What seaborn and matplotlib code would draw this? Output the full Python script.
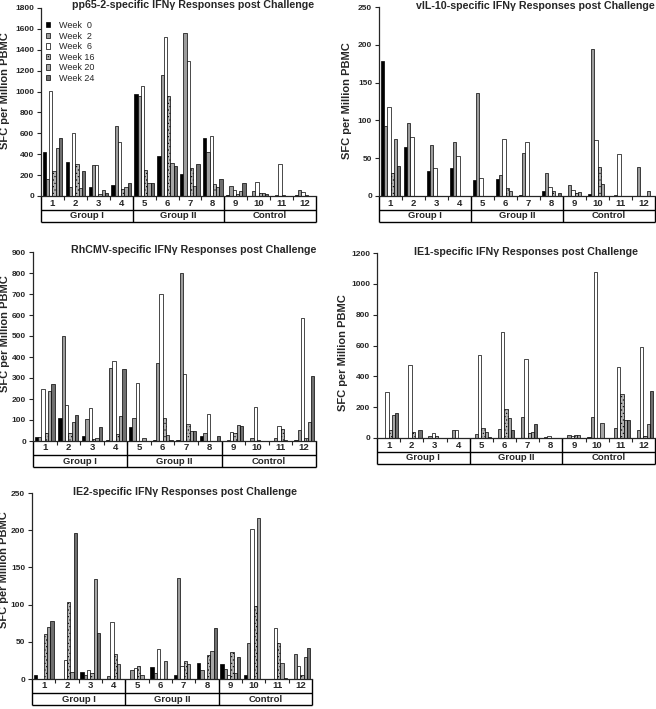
import numpy as np
import pandas as pd
import seaborn as sns
import matplotlib.pyplot as plt
import matplotlib.patches as mpatches

# figure size in pixels
W, H = 656, 709

animals = [str(i) for i in range(1, 13)]
weeks = ['Week  0', 'Week  2', 'Week  6', 'Week 16', 'Week 20', 'Week 24']
groups = ['Group I', 'Group II', 'Control']
week_colors = ['#000000', '#9c9c9c', '#ffffff', '#b4b4b4', '#a6a6a6', '#6f6f6f']

# rows = weeks (0, 2, 6, 16, 20, 24), columns = animals 1..12
pp65_vals = [
    [418, 326, 89, 102, 975, 383, 214, 559, 10, 0, 0, 8],
    [163, 83, 297, 670, 955, 1155, 1561, 421, 96, 48, 10, 54],
    [1010, 603, 297, 517, 1050, 1525, 1296, 575, 54, 134, 306, 35],
    [240, 306, 19, 67, 249, 955, 271, 112, 16, 26, 10, 5],
    [456, 73, 57, 86, 121, 313, 93, 89, 48, 32, 3, 3],
    [555, 240, 26, 128, 121, 290, 310, 163, 124, 19, 3, 3],
]
vil10_vals = [
    [178, 65, 33, 37, 21, 23, 1, 7, 0, 3, 0, 0],
    [92, 97, 67, 71, 136, 28, 57, 30, 14, 194, 1, 38],
    [118, 78, 37, 53, 24, 75, 71, 12, 8, 74, 56, 0],
    [30, 0, 0, 0, 0, 11, 0, 6, 4, 38, 0, 0],
    [75, 0, 0, 0, 0, 7, 0, 0, 5, 16, 0, 6],
    [40, 0, 0, 0, 0, 0, 0, 4, 0, 0, 0, 0],
]
rhcmv_vals = [
    [20, 110, 25, 5, 65, 5, 5, 25, 0, 0, 0, 3],
    [20, 498, 103, 350, 110, 370, 800, 38, 5, 15, 15, 52],
    [250, 170, 155, 383, 275, 700, 318, 128, 45, 162, 72, 588],
    [40, 40, 10, 35, 0, 110, 80, 0, 40, 3, 55, 15],
    [240, 90, 12, 118, 15, 30, 50, 0, 75, 0, 5, 90],
    [272, 125, 65, 345, 0, 5, 48, 25, 72, 0, 0, 308],
]
ie1_vals = [
    [3, 0, 0, 0, 0, 0, 0, 0, 0, 5, 0, 0],
    [0, 0, 12, 50, 25, 60, 138, 5, 18, 135, 68, 52],
    [300, 475, 30, 50, 538, 690, 515, 10, 10, 1080, 460, 590],
    [50, 38, 15, 0, 62, 185, 30, 0, 22, 0, 283, 15],
    [148, 0, 0, 0, 42, 128, 38, 0, 20, 100, 115, 88],
    [160, 50, 0, 0, 5, 52, 90, 0, 0, 0, 115, 308],
]
ie2_vals = [
    [5, 0, 9, 0, 0, 16, 5, 22, 20, 6, 0, 0],
    [0, 0, 6, 4, 12, 8, 136, 12, 14, 48, 0, 34],
    [0, 26, 12, 76, 15, 40, 18, 0, 6, 202, 68, 18],
    [60, 104, 8, 34, 18, 0, 24, 32, 36, 98, 48, 6],
    [70, 10, 134, 20, 6, 24, 20, 38, 8, 216, 22, 30],
    [78, 196, 62, 0, 0, 0, 0, 68, 30, 0, 2, 42],
]

titles = [
    'pp65-2-specific IFNγ Responses post Challenge',
    'vIL-10-specific IFNγ Responses post Challenge',
    'RhCMV-specific IFNγ Responses post Challenge',
    'IE1-specific IFNγ Responses post Challenge',
    'IE2-specific IFNγ Responses post Challenge',
]

sns.set_style('ticks')
plt.rcParams['font.family'] = ['Liberation Sans', 'DejaVu Sans']
plt.rcParams['font.weight'] = 'bold'
plt.rcParams['hatch.linewidth'] = 0.4

fig = plt.figure(figsize=(W / 100, H / 100), dpi=100)

# (values, ymax, ystep, axes box px: left, right, top, bottom,
#  title right/y px, ylabel right edge px / centre y px, legend)
panels = [
    (pp65_vals, 1800, 200, (41, 316, 8, 196), (314, 5), (10, 91), True),
    (vil10_vals, 250, 50, (379, 655, 7, 196), (655, 6), (352, 101), False),
    (rhcmv_vals, 900, 100, (33, 316, 252, 441), (316, 250), (10, 334), False),
    (ie1_vals, 1200, 200, (377, 655, 253, 438), (638, 252), (348, 353), False),
    (ie2_vals, 250, 50, (32, 312, 493, 679), (297, 492), (9, 570), False),
]


def draw_box(ax, h_px):
    # two-row box under the x axis: animal numbers, then group names
    r1 = -14 / h_px
    r2 = -26 / h_px
    tr = ax.get_xaxis_transform()
    x0, x1 = ax.get_xlim()
    kw = dict(color='black', lw=1.0, transform=tr, clip_on=False, solid_capstyle='butt')
    ax.plot([x0, x1], [r1, r1], **kw)
    ax.plot([x0, x1], [r2, r2], **kw)
    for xb in [x0, 3.5, 7.5, x1]:
        ax.plot([xb, xb], [0, r2], **kw)
    for gi, g in enumerate(groups):
        ax.text(gi * 4 + 1.5, (r1 + r2) / 2, g, transform=tr, ha='center', va='center',
                fontsize=6.8, fontweight='bold')


for title, (vals, ymax, ystep, box, tpos, lab, show_leg) in zip(titles, panels):
    l, r, t, b = box
    ax = fig.add_axes([l / W, 1 - b / H, (r - l) / W, (b - t) / H])
    df = pd.DataFrame({
        'animal': np.tile(animals, len(weeks)),
        'week': np.repeat(weeks, len(animals)),
        'value': np.concatenate(vals),
    })
    sns.barplot(data=df, x='animal', y='value', hue='week', order=animals, hue_order=weeks,
                palette=week_colors, saturation=1, edgecolor='black', linewidth=0.5,
                width=0.85, gap=0, errorbar=None, legend=False, ax=ax)
    for p in ax.containers[3]:
        p.set_hatch('.....')

    ax.set_xlim(-0.5, 11.5)
    ax.set_ylim(0, ymax)
    ax.set_yticks(np.arange(0, ymax + 1, ystep))
    ax.set_xlabel('')
    ax.set_ylabel('SFC per Million PBMC', fontsize=8, fontweight='bold')
    ax.yaxis.set_label_coords((lab[0] - l) / (r - l), (b - lab[1]) / (b - t))
    sns.despine(ax=ax)
    ax.spines['left'].set_linewidth(0.9)
    ax.spines['bottom'].set_linewidth(0.9)
    ax.tick_params(axis='y', length=3, width=0.8, labelsize=6, pad=2)
    ax.tick_params(axis='x', which='major', length=0, labelsize=6.8, pad=1.8)
    ax.set_xticks(np.arange(0.5, 11, 1), minor=True)
    ax.tick_params(axis='x', which='minor', length=3, width=0.8)
    draw_box(ax, b - t)

    fig.text(tpos[0] / W, 1 - tpos[1] / H, title, ha='right', va='center',
             fontsize=7.7, fontweight='bold')

    if show_leg:
        handles = [mpatches.Patch(facecolor=c, edgecolor='black', linewidth=0.5,
                                  hatch='.....' if i == 3 else None)
                   for i, c in enumerate(week_colors)]
        ax.legend(handles, weeks, loc='upper left', bbox_to_anchor=(0.0, 0.955),
                  frameon=False, borderpad=0, handlelength=0.55, handleheight=0.55,
                  handletextpad=0.9, labelspacing=0.17,
                  prop={'size': 6.5, 'weight': 'normal'})

fig.savefig('out.png', dpi=100)
